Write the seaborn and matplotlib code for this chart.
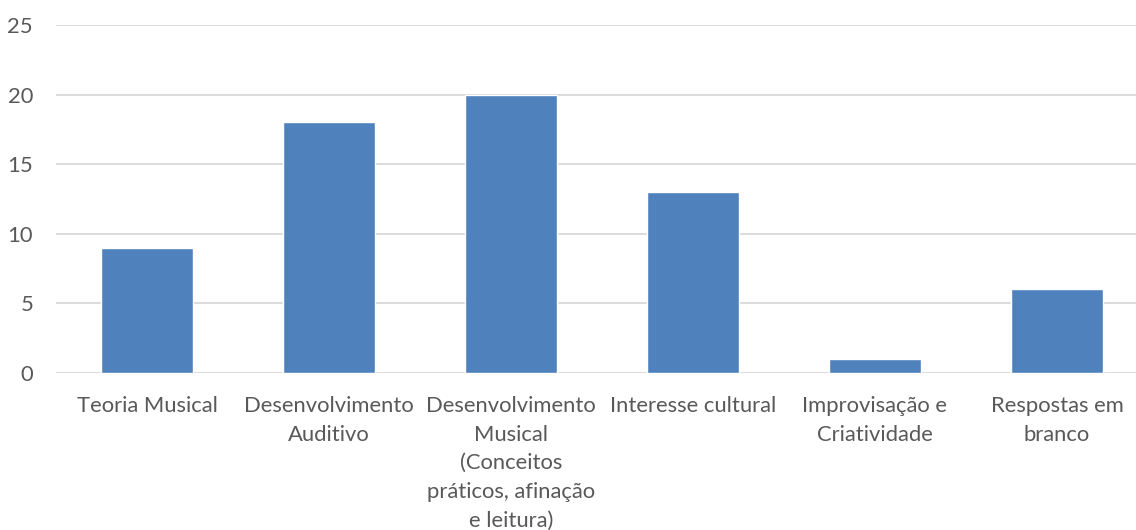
import matplotlib
matplotlib.use("Agg")
import matplotlib.pyplot as plt
import seaborn as sns
import pandas as pd

categories = [
    "Teoria Musical",
    "Desenvolvimento\nAuditivo",
    "Desenvolvimento\nMusical\n(Conceitos\npráticos, afinação\ne leitura)",
    "Interesse cultural",
    "Improvisação e\nCriatividade",
    "Respostas em\nbranco",
]
values = [9, 18, 20, 13, 1, 6]
yticks = [0, 5, 10, 15, 20, 25]

df = pd.DataFrame({"cat": categories, "val": values})

sns.set_theme(style="white")
plt.rcParams["font.family"] = ["Lato", "DejaVu Sans"]

fig = plt.figure(figsize=(11.36, 5.30), dpi=100)
ax = fig.add_axes([56 / 1136, 1 - 373 / 530, 1092 / 1136, 348 / 530])

sns.barplot(data=df, x="cat", y="val", color="#4F81BD", saturation=1, width=0.505, ax=ax, zorder=3)

ax.set_ylim(0, 25)
ax.set_xlim(-0.5, 5.5)
ax.set_yticks(yticks)
ax.yaxis.grid(True, color="#D9D9D9", linewidth=1.3, zorder=0)
ax.set_axisbelow(True)
for s in ax.spines.values():
    s.set_visible(False)
ax.set_xlabel("")
ax.set_ylabel("")
ax.tick_params(axis="both", length=0, labelsize=15.8, labelcolor="#595959")
ax.tick_params(axis="y", pad=16.5)
ax.tick_params(axis="x", pad=16.5)
for lab in ax.get_xticklabels():
    lab.set_linespacing(1.54)
    lab.set_va("top")

fig.savefig("out.png", dpi=100)
